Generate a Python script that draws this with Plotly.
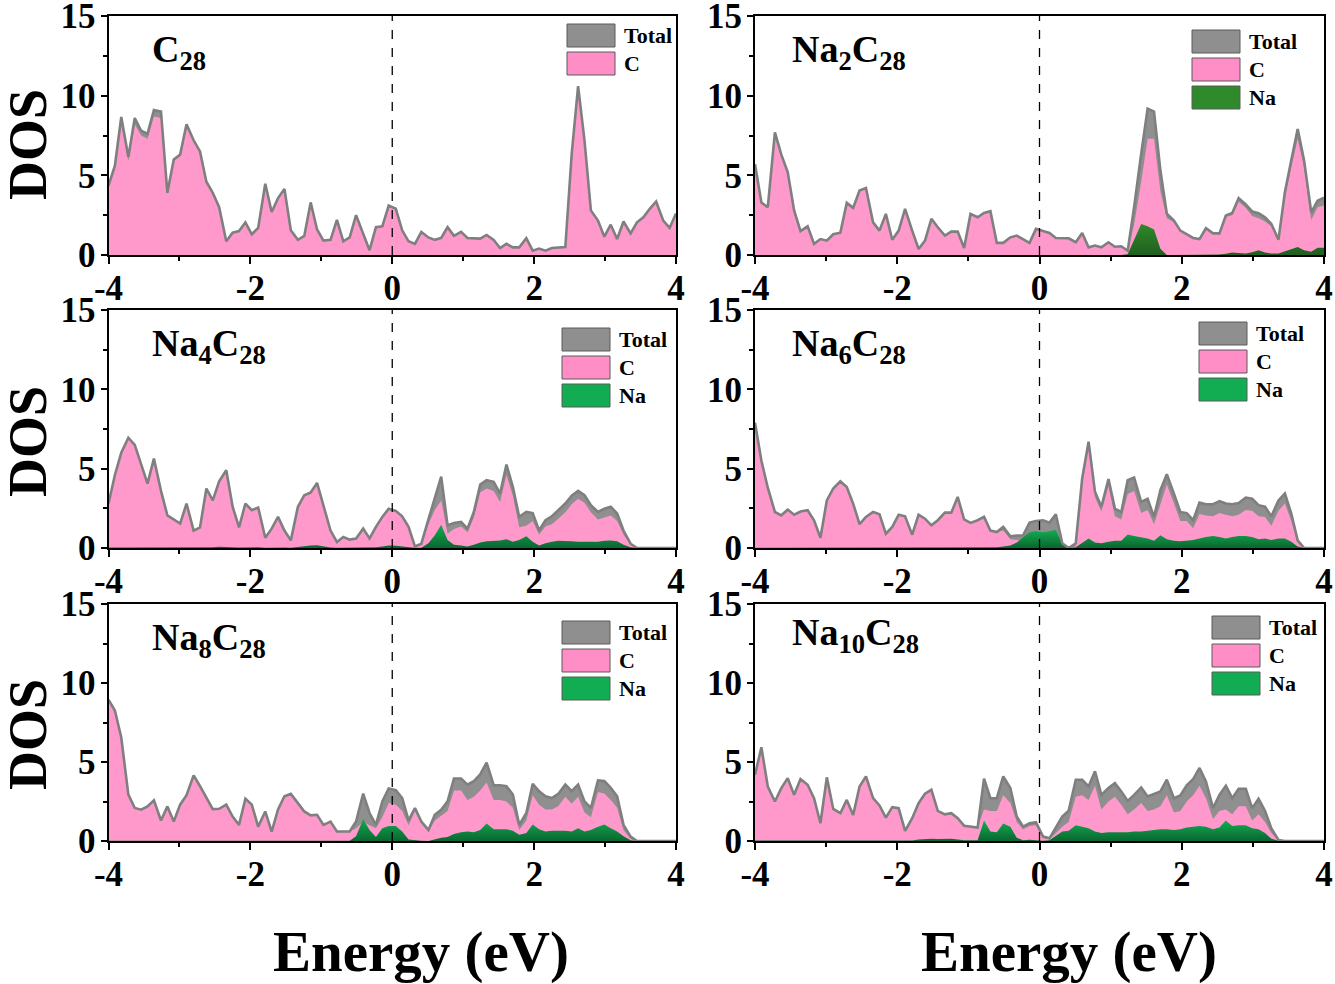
import plotly.graph_objects as go

W, H = 1335, 984

# energy grid (eV), shared by all six panels
ENERGY = [
    -4.00, -3.91, -3.82, -3.72, -3.63, -3.54, -3.45, -3.36, -3.26, -3.17,
    -3.08, -2.99, -2.90, -2.80, -2.71, -2.62, -2.53, -2.44, -2.34, -2.25,
    -2.16, -2.07, -1.98, -1.89, -1.79, -1.70, -1.61, -1.52, -1.43, -1.33,
    -1.24, -1.15, -1.06, -0.97, -0.87, -0.78, -0.69, -0.60, -0.51, -0.41,
    -0.32, -0.23, -0.14, -0.05, 0.05, 0.14, 0.23, 0.32, 0.41, 0.51,
    0.60, 0.69, 0.78, 0.87, 0.97, 1.06, 1.15, 1.24, 1.33, 1.43,
    1.52, 1.61, 1.70, 1.79, 1.89, 1.98, 2.07, 2.16, 2.25, 2.34,
    2.44, 2.53, 2.62, 2.71, 2.80, 2.90, 2.99, 3.08, 3.17, 3.26,
    3.36, 3.45, 3.54, 3.63, 3.72, 3.82, 3.91, 4.00,
]

X_TICKS = [-4, -2, 0, 2, 4]
X_TICK_TEXT = ["-4", "-2", "0", "2", "4"]
Y_TICKS = [0, 5, 10, 15]
Y_TICK_TEXT = ["0", "5", "10", "15"]

# ---- C28 ----
C28_TOTAL = [
    4.36, 5.6, 8.66, 6.15, 8.6, 7.8, 7.6, 9.1, 9.0, 3.9,
    6.0, 6.3, 8.2, 7.2, 6.5, 4.6, 3.9, 3.0, 0.86, 1.4,
    1.5, 2.05, 1.3, 1.7, 4.47, 2.7, 3.57, 4.15, 1.55, 0.95,
    1.2, 3.3, 1.6, 0.9, 0.95, 2.2, 0.86, 1.1, 2.5, 1.3,
    0.3, 1.75, 1.8, 3.1, 2.9, 1.55, 0.86, 0.7, 1.45, 1.1,
    0.95, 1.07, 1.75, 1.2, 1.45, 1.07, 1.05, 1.03, 1.26, 0.95,
    0.44, 0.7, 0.48, 0.48, 1.05, 0.27, 0.4, 0.27, 0.44, 0.46,
    0.5, 6.36, 10.6, 7.2, 2.8, 2.16, 1.15, 1.9, 1.0, 2.1,
    1.36, 2.05, 2.37, 2.9, 3.36, 2.16, 1.7, 2.6,
]
C28_C = [
    4.3, 5.4, 8.3, 5.9, 8.2, 7.5, 7.3, 8.7, 8.6, 3.8,
    5.9, 6.2, 8.1, 7.1, 6.4, 4.55, 3.85, 2.95, 0.84, 1.38,
    1.5, 2.05, 1.3, 1.7, 4.47, 2.7, 3.57, 4.15, 1.55, 0.95,
    1.2, 3.3, 1.6, 0.9, 0.95, 2.2, 0.86, 1.1, 2.5, 1.3,
    0.3, 1.75, 1.8, 3.1, 2.9, 1.55, 0.86, 0.7, 1.45, 1.1,
    0.95, 1.07, 1.75, 1.2, 1.45, 1.07, 1.05, 1.03, 1.26, 0.95,
    0.44, 0.7, 0.48, 0.48, 1.05, 0.27, 0.4, 0.27, 0.44, 0.46,
    0.5, 6.3, 10.5, 7.1, 2.8, 2.16, 1.15, 1.9, 1.0, 2.1,
    1.36, 2.05, 2.37, 2.9, 3.36, 2.16, 1.7, 2.6,
]

# ---- Na2C28 ----
NA2_TOTAL = [
    5.7, 3.3, 3.0, 7.7, 6.3, 5.2, 2.8, 1.5, 1.8, 0.7,
    1.0, 0.9, 1.3, 1.4, 3.27, 2.96, 4.05, 4.2, 2.05, 1.53,
    2.58, 0.96, 1.53, 2.9, 1.53, 0.38, 0.9, 2.27, 1.74, 1.22,
    1.47, 1.47, 0.44, 2.58, 2.37, 2.64, 2.75, 0.76, 0.76, 1.11,
    1.22, 1.0, 0.76, 1.64, 1.49, 1.38, 1.07, 1.05, 1.05, 0.8,
    1.38, 0.48, 0.59, 0.48, 0.8, 0.52, 0.55, 0.27, 3.0, 6.36,
    9.19, 9.0, 5.3, 2.6, 2.16, 1.53, 1.32, 1.07, 1.0, 1.68,
    1.36, 1.36, 2.48, 2.64, 3.57, 3.17, 2.73, 2.62, 2.37, 1.95,
    0.96, 3.94, 5.94, 7.9, 5.94, 2.68, 3.4, 3.6,
]
NA2_C = [
    5.7, 3.3, 3.0, 7.7, 6.3, 5.2, 2.8, 1.5, 1.8, 0.7,
    1.0, 0.9, 1.3, 1.4, 3.27, 2.96, 4.05, 4.2, 2.05, 1.53,
    2.58, 0.96, 1.53, 2.9, 1.53, 0.38, 0.9, 2.27, 1.74, 1.22,
    1.47, 1.47, 0.44, 2.58, 2.37, 2.64, 2.75, 0.76, 0.76, 1.11,
    1.22, 1.0, 0.76, 1.64, 1.49, 1.38, 1.07, 1.05, 1.05, 0.8,
    1.38, 0.48, 0.59, 0.48, 0.8, 0.52, 0.55, 0.22, 1.9, 4.6,
    7.3, 7.3, 4.0, 2.3, 2.05, 1.5, 1.3, 1.05, 1.0, 1.65,
    1.33, 1.3, 2.4, 2.5, 3.35, 2.95, 2.45, 2.3, 2.1, 1.8,
    0.9, 3.6, 5.5, 7.3, 5.5, 2.2, 3.0, 3.1,
]
NA2_NA = [
    0.0, 0.0, 0.0, 0.0, 0.0, 0.0, 0.0, 0.0, 0.0, 0.0,
    0.0, 0.0, 0.0, 0.0, 0.0, 0.0, 0.0, 0.0, 0.0, 0.0,
    0.0, 0.0, 0.0, 0.0, 0.0, 0.0, 0.0, 0.0, 0.0, 0.0,
    0.0, 0.0, 0.0, 0.0, 0.0, 0.0, 0.0, 0.0, 0.0, 0.0,
    0.0, 0.0, 0.0, 0.0, 0.0, 0.0, 0.0, 0.0, 0.0, 0.0,
    0.0, 0.0, 0.0, 0.0, 0.0, 0.0, 0.0, 0.05, 1.0, 1.95,
    1.8, 1.6, 0.4, 0.0, 0.0, 0.0, 0.0, 0.0, 0.0, 0.0,
    0.0, 0.03, 0.08, 0.15, 0.12, 0.1, 0.18, 0.3, 0.15, 0.1,
    0.1, 0.25, 0.35, 0.5, 0.3, 0.2, 0.45, 0.45,
]

# ---- Na4C28 ----
NA4_TOTAL = [
    2.8, 4.6, 6.0, 6.95, 6.5, 5.3, 4.06, 5.64, 3.6, 2.06,
    1.8, 1.54, 2.8, 1.1, 1.3, 3.75, 3.0, 4.2, 4.9, 2.6,
    1.3, 2.8, 2.38, 2.55, 0.65, 1.22, 1.96, 1.1, 0.48, 2.6,
    3.33, 3.5, 4.1, 2.6, 1.1, 0.38, 0.7, 0.53, 0.6, 1.22,
    0.6, 1.33, 1.96, 2.48, 2.34, 2.0, 1.33, 0.1, 0.27, 1.8,
    3.2, 4.5, 1.43, 1.58, 1.64, 1.22, 2.27, 4.0, 4.27, 4.17,
    3.43, 5.26, 3.85, 1.96, 2.27, 2.2, 1.1, 1.75, 2.0, 2.38,
    2.8, 3.3, 3.6, 3.33, 2.7, 2.27, 2.48, 2.6, 2.17, 1.1,
    0.27, 0.0, 0.0, 0.0, 0.0, 0.0, 0.0, 0.0,
]
NA4_C = [
    2.8, 4.6, 6.0, 6.95, 6.5, 5.3, 4.06, 5.64, 3.6, 2.06,
    1.8, 1.54, 2.8, 1.1, 1.3, 3.75, 3.0, 4.2, 4.9, 2.6,
    1.3, 2.8, 2.38, 2.55, 0.65, 1.22, 1.96, 1.1, 0.48, 2.55,
    3.25, 3.4, 4.0, 2.55, 1.1, 0.38, 0.7, 0.53, 0.6, 1.2,
    0.6, 1.3, 1.9, 2.4, 2.25, 1.95, 1.3, 0.1, 0.25, 1.5,
    2.4, 3.0, 0.9, 1.2, 1.35, 1.0, 1.9, 3.5, 3.75, 3.6,
    2.9, 4.6, 3.3, 1.3, 1.4, 1.7, 0.85, 1.35, 1.5, 1.85,
    2.25, 2.75, 3.1, 2.85, 2.25, 1.8, 1.95, 2.05, 1.7, 0.85,
    0.2, 0.0, 0.0, 0.0, 0.0, 0.0, 0.0, 0.0,
]
NA4_NA = [
    0.03, 0.03, 0.03, 0.03, 0.03, 0.03, 0.03, 0.03, 0.03, 0.03,
    0.05, 0.05, 0.05, 0.03, 0.03, 0.05, 0.05, 0.08, 0.08, 0.05,
    0.03, 0.05, 0.05, 0.05, 0.02, 0.03, 0.05, 0.03, 0.02, 0.08,
    0.12, 0.15, 0.18, 0.1, 0.03, 0.01, 0.02, 0.02, 0.02, 0.04,
    0.03, 0.05, 0.1, 0.15, 0.14, 0.1, 0.05, 0.01, 0.02, 0.3,
    0.8, 1.47, 0.5, 0.2, 0.15, 0.1, 0.2, 0.35, 0.42, 0.45,
    0.47, 0.55, 0.4, 0.5, 0.74, 0.4, 0.15, 0.3, 0.4, 0.45,
    0.45, 0.43, 0.4, 0.4, 0.38, 0.4, 0.45, 0.48, 0.42, 0.2,
    0.05, 0.0, 0.0, 0.0, 0.0, 0.0, 0.0, 0.0,
]

# ---- Na6C28 ----
NA6_TOTAL = [
    7.9, 5.5, 3.8, 2.27, 2.06, 2.42, 2.1, 2.3, 2.38, 1.75,
    0.65, 3.0, 3.75, 4.2, 3.85, 2.8, 1.5, 1.96, 2.27, 2.13,
    0.9, 1.33, 2.1, 2.0, 0.84, 2.1, 1.85, 1.43, 1.75, 2.23,
    2.23, 3.22, 1.8, 1.58, 1.75, 1.96, 1.1, 1.0, 1.33, 0.74,
    0.78, 0.8, 1.6, 1.7, 1.75, 1.6, 2.13, 0.3, 0.0, 0.3,
    4.38, 6.7, 3.54, 2.6, 4.34, 2.48, 2.27, 4.27, 4.44, 2.9,
    3.1, 1.96, 3.64, 4.65, 3.43, 2.27, 2.2, 1.75, 2.86, 2.76,
    2.76, 2.95, 2.8, 2.76, 2.84, 3.18, 3.1, 2.7, 2.6, 2.0,
    3.0, 3.43, 2.17, 0.48, 0.0, 0.0, 0.0, 0.0,
]
NA6_C = [
    7.9, 5.5, 3.8, 2.27, 2.06, 2.42, 2.1, 2.3, 2.38, 1.75,
    0.65, 3.0, 3.75, 4.2, 3.85, 2.8, 1.5, 1.96, 2.27, 2.13,
    0.9, 1.33, 2.1, 2.0, 0.84, 2.1, 1.85, 1.43, 1.75, 2.23,
    2.23, 3.22, 1.8, 1.58, 1.75, 1.96, 1.1, 1.0, 1.1, 0.55,
    0.5, 0.45, 0.5, 0.5, 0.5, 0.45, 0.7, 0.1, 0.0, 0.1,
    4.1, 6.4, 3.2, 2.3, 3.9, 2.0, 1.8, 3.4, 3.6, 2.2,
    2.4, 1.5, 2.8, 4.0, 2.8, 1.7, 1.7, 1.25, 2.15, 2.05,
    2.0, 2.2, 2.1, 2.0, 2.1, 2.4, 2.35, 2.0, 1.95, 1.4,
    2.35, 2.8, 1.7, 0.35, 0.0, 0.0, 0.0, 0.0,
]
NA6_NA = [
    0.02, 0.02, 0.02, 0.02, 0.02, 0.02, 0.02, 0.02, 0.02, 0.02,
    0.02, 0.02, 0.02, 0.02, 0.02, 0.02, 0.02, 0.02, 0.02, 0.02,
    0.02, 0.02, 0.02, 0.02, 0.02, 0.02, 0.02, 0.02, 0.02, 0.02,
    0.02, 0.02, 0.02, 0.02, 0.02, 0.02, 0.02, 0.05, 0.1, 0.15,
    0.35, 0.7, 1.0, 1.05, 1.0, 1.05, 1.15, 0.2, 0.0, 0.05,
    0.35, 0.6, 0.35, 0.3, 0.4, 0.45, 0.45, 0.85, 0.75, 0.65,
    0.6, 0.45, 0.8, 0.55, 0.45, 0.42, 0.45, 0.5, 0.6, 0.7,
    0.75, 0.7, 0.6, 0.7, 0.75, 0.75, 0.7, 0.55, 0.6, 0.5,
    0.6, 0.6, 0.4, 0.1, 0.0, 0.0, 0.0, 0.0,
]

# ---- Na8C28 ----
NA8_TOTAL = [
    8.94, 8.26, 6.55, 2.94, 2.09, 1.98, 2.19, 2.57, 1.3, 2.19,
    1.23, 2.3, 2.9, 4.15, 3.47, 2.72, 2.02, 2.04, 2.3, 1.55,
    1.02, 2.68, 2.3, 0.91, 1.87, 0.6, 2.0, 2.83, 2.98, 2.4,
    1.87, 1.62, 1.66, 1.02, 1.23, 0.6, 0.6, 0.6, 1.23, 3.0,
    1.77, 1.02, 2.51, 3.32, 3.21, 2.72, 1.3, 2.09, 1.23, 0.7,
    1.66, 1.98, 2.51, 3.96, 3.96, 3.57, 3.79, 4.21, 4.96, 3.53,
    3.53, 3.47, 2.94, 1.02, 1.77, 3.62, 3.15, 2.83, 2.72, 2.98,
    3.57, 3.15, 3.57, 2.51, 2.09, 3.83, 3.79, 3.36, 2.83, 1.02,
    0.28, 0.0, 0.0, 0.0, 0.0, 0.0, 0.0, 0.0,
]
NA8_C = [
    8.94, 8.26, 6.55, 2.94, 2.09, 1.98, 2.19, 2.57, 1.3, 2.19,
    1.23, 2.3, 2.9, 4.15, 3.47, 2.72, 2.02, 2.04, 2.3, 1.55,
    1.02, 2.68, 2.3, 0.91, 1.87, 0.6, 2.0, 2.83, 2.98, 2.4,
    1.87, 1.62, 1.66, 1.02, 1.23, 0.6, 0.6, 0.6, 0.8, 1.2,
    1.0, 0.8, 1.5, 2.4, 2.3, 1.9, 1.0, 1.9, 1.1, 0.6,
    1.3, 1.6, 1.9, 3.2, 3.2, 2.6, 2.8, 3.2, 3.7, 2.6,
    2.6, 2.5, 2.1, 0.7, 1.3, 2.9, 2.3, 2.0, 2.0, 2.2,
    2.8, 2.35, 2.8, 1.8, 1.5, 3.1, 3.0, 2.6, 2.1, 0.7,
    0.15, 0.0, 0.0, 0.0, 0.0, 0.0, 0.0, 0.0,
]
NA8_NA = [
    0.02, 0.02, 0.02, 0.02, 0.02, 0.02, 0.02, 0.02, 0.02, 0.02,
    0.02, 0.02, 0.02, 0.02, 0.02, 0.02, 0.02, 0.02, 0.02, 0.02,
    0.02, 0.02, 0.02, 0.02, 0.02, 0.02, 0.02, 0.02, 0.02, 0.02,
    0.02, 0.02, 0.02, 0.02, 0.02, 0.02, 0.02, 0.02, 0.3, 1.4,
    0.7, 0.25, 0.8, 0.95, 0.95, 0.6, 0.1, 0.05, 0.02, 0.0,
    0.1, 0.2, 0.25, 0.45, 0.55, 0.6, 0.55, 0.7, 1.1, 0.75,
    0.75, 0.75, 0.65, 0.4, 0.5, 1.05, 0.75, 0.6, 0.65, 0.65,
    0.65, 0.6, 0.8, 0.6, 0.7, 0.9, 1.05, 0.8, 0.6, 0.3,
    0.05, 0.0, 0.0, 0.0, 0.0, 0.0, 0.0, 0.0,
]

# ---- Na10C28 ----
NA10_TOTAL = [
    4.2, 5.93, 3.45, 2.5, 3.35, 3.98, 2.92, 3.92, 3.56, 2.71,
    1.12, 4.03, 2.03, 1.76, 2.6, 1.65, 3.45, 4.09, 2.71, 2.25,
    1.48, 2.14, 2.08, 0.64, 1.44, 2.39, 2.99, 3.24, 1.91, 1.69,
    1.76, 1.44, 0.97, 0.91, 0.85, 3.94, 2.71, 2.71, 4.09, 3.35,
    1.55, 0.91, 1.12, 1.19, 0.28, 0.17, 0.9, 1.55, 1.91, 3.88,
    3.88, 3.45, 4.41, 2.92, 3.35, 3.66, 3.14, 2.54, 2.92, 3.39,
    2.82, 2.97, 3.14, 3.88, 2.71, 2.88, 3.52, 3.92, 4.62, 3.77,
    2.08, 2.92, 3.5, 2.71, 3.3, 3.3, 2.08, 2.67, 1.91, 0.8,
    0.06, 0.0, 0.0, 0.0, 0.0, 0.0, 0.0, 0.0,
]
NA10_C = [
    4.2, 5.93, 3.45, 2.5, 3.35, 3.98, 2.92, 3.92, 3.56, 2.71,
    1.12, 4.03, 2.03, 1.76, 2.6, 1.65, 3.45, 4.09, 2.71, 2.25,
    1.48, 2.14, 2.08, 0.64, 1.44, 2.39, 2.99, 3.24, 1.91, 1.69,
    1.76, 1.44, 0.97, 0.91, 0.85, 2.0, 1.9, 1.9, 2.9, 2.4,
    1.2, 0.75, 0.95, 1.0, 0.2, 0.1, 0.5, 0.9, 1.2, 2.8,
    2.9, 2.6, 3.5, 2.0, 2.5, 2.8, 2.3, 1.7, 2.0, 2.4,
    1.9, 2.0, 2.2, 2.9, 1.8, 1.9, 2.5, 2.9, 3.5, 2.7,
    1.4, 1.9, 2.0, 1.7, 2.2, 2.2, 1.3, 1.7, 1.2, 0.5,
    0.03, 0.0, 0.0, 0.0, 0.0, 0.0, 0.0, 0.0,
]
NA10_NA = [
    0.03, 0.03, 0.03, 0.03, 0.03, 0.03, 0.03, 0.03, 0.03, 0.03,
    0.03, 0.03, 0.03, 0.03, 0.03, 0.03, 0.03, 0.03, 0.03, 0.03,
    0.03, 0.03, 0.03, 0.03, 0.03, 0.1, 0.12, 0.15, 0.12, 0.15,
    0.15, 0.1, 0.05, 0.05, 0.05, 1.3, 0.6, 0.55, 1.1, 0.9,
    0.2, 0.05, 0.08, 0.05, 0.02, 0.05, 0.3, 0.6, 0.65, 1.0,
    0.9, 0.8, 0.6, 0.5, 0.55, 0.55, 0.55, 0.55, 0.6, 0.6,
    0.65, 0.7, 0.75, 0.75, 0.7, 0.75, 0.85, 0.9, 0.95, 0.9,
    0.75, 0.85, 1.3, 0.95, 1.0, 1.0, 0.8, 0.75, 0.5, 0.15,
    0.02, 0.0, 0.0, 0.0, 0.0, 0.0, 0.0, 0.0,
]

LABELS = [
    "C<sub>28</sub>",
    "Na<sub>2</sub>C<sub>28</sub>",
    "Na<sub>4</sub>C<sub>28</sub>",
    "Na<sub>6</sub>C<sub>28</sub>",
    "Na<sub>8</sub>C<sub>28</sub>",
    "Na<sub>10</sub>C<sub>28</sub>",
]

PANELS = [
    (C28_TOTAL, C28_C, None),
    (NA2_TOTAL, NA2_C, NA2_NA),
    (NA4_TOTAL, NA4_C, NA4_NA),
    (NA6_TOTAL, NA6_C, NA6_NA),
    (NA8_TOTAL, NA8_C, NA8_NA),
    (NA10_TOTAL, NA10_C, NA10_NA),
]
for tot, c, na in PANELS:
    assert len(tot) == len(ENERGY) and len(c) == len(ENERGY)
    assert na is None or len(na) == len(ENERGY)

# layout, in pixels of the 1335x984 page
BOXES = [  # left, right, top, bottom of each plot frame
    (108.5, 676, 16, 255), (755, 1324, 16, 255),
    (108.5, 676, 310, 548), (755, 1324, 310, 548),
    (108.5, 676, 604, 841), (755, 1324, 604, 841),
]
LABEL_POS = [(150, 52), (790, 52), (150, 346), (790, 346), (150, 640), (790, 635)]
LEGEND_POS = [(567, 24), (1192, 30), (562, 328), (1199, 322), (562, 621), (1212, 616)]

FONT = "Liberation Serif"
PINK = "#ff99cc"
GRAY_FILL = "#8f8f8f"
GRAY_LINE = "#7f7f7f"
GREEN_DARK = "#0a6630"
GREEN_LIGHT = "#12ad52"
NA2_GREEN = "#2e8a2a"


def px(x):
    return x / W


def py(y):
    return 1 - y / H


fig = go.Figure()
layout = dict(
    template="none",
    width=W, height=H,
    margin=dict(l=0, r=0, t=0, b=0, pad=0),
    paper_bgcolor="white", plot_bgcolor="white",
    showlegend=False,
    font=dict(family=FONT, color="black"),
)
shapes = []
annotations = []

for k, (total, c, na) in enumerate(PANELS):
    sfx = "" if k == 0 else str(k + 1)
    xa, ya = "x" + sfx, "y" + sfx
    green = NA2_GREEN if k == 1 else GREEN_LIGHT

    fig.add_trace(go.Scatter(
        x=ENERGY, y=total, xaxis=xa, yaxis=ya, mode="lines",
        fill="tozeroy", fillcolor=GRAY_FILL, line=dict(width=0),
        hoverinfo="skip",
    ))
    fig.add_trace(go.Scatter(
        x=ENERGY, y=c, xaxis=xa, yaxis=ya, mode="lines",
        fill="tozeroy", fillcolor=PINK, line=dict(width=0),
        hoverinfo="skip",
    ))
    if na is not None:
        fig.add_trace(go.Scatter(
            x=ENERGY, y=na, xaxis=xa, yaxis=ya, mode="lines",
            fill="tozeroy", fillcolor=green, line=dict(width=0),
            fillgradient=dict(type="vertical",
                              colorscale=[[0, "#1f5f1f" if k == 1 else GREEN_DARK], [1, green]]),
            hoverinfo="skip",
        ))
    # total outline on top
    fig.add_trace(go.Scatter(
        x=ENERGY, y=total, xaxis=xa, yaxis=ya, mode="lines",
        line=dict(color=GRAY_LINE, width=2.6), hoverinfo="skip",
    ))

    left, right, top, bottom = BOXES[k]
    layout["xaxis" + sfx] = dict(
        domain=[px(left), px(right)], anchor=ya, range=[-4, 4],
        tickvals=X_TICKS, ticktext=X_TICK_TEXT, automargin=False,
        ticks="outside", ticklen=7, tickwidth=2, tickcolor="black",
        ticklabelstandoff=-6, ticklabeloverflow="allow",
        minor=dict(dtick=1, tick0=-4, ticks="outside", ticklen=4, tickwidth=1.5, tickcolor="black"),
        showline=True, linewidth=2, linecolor="black", mirror=True,
        showgrid=False, zeroline=False,
        tickfont=dict(family=FONT, size=35, weight="bold", color="black"),
    )
    layout["yaxis" + sfx] = dict(
        domain=[py(bottom), py(top)], anchor=xa, range=[0, 15],
        tickvals=Y_TICKS, ticktext=Y_TICK_TEXT, automargin=False,
        ticks="outside", ticklen=6, tickwidth=2, tickcolor="black",
        ticklabelstandoff=-2, ticklabeloverflow="allow",
        minor=dict(dtick=2.5, tick0=0, ticks="outside", ticklen=4, tickwidth=1.5, tickcolor="black"),
        showline=True, linewidth=2, linecolor="black", mirror=True,
        showgrid=False, zeroline=False,
        tickfont=dict(family=FONT, size=35, weight="bold", color="black"),
    )

    # Fermi level
    shapes.append(dict(
        type="line", xref=xa, yref=ya + " domain", x0=0, x1=0, y0=0, y1=1,
        line=dict(color="black", width=1.3, dash="dash"), layer="above",
    ))

    # panel label
    lx, ly = LABEL_POS[k]
    annotations.append(dict(
        text=LABELS[k], x=px(lx), y=py(ly), xref="paper", yref="paper",
        xanchor="left", yanchor="middle", showarrow=False,
        font=dict(family=FONT, size=38, weight="bold", color="black"),
    ))

    # legend swatches
    bx, by = LEGEND_POS[k]
    entries = [("Total", GRAY_FILL), ("C", "#ff8ec6")]
    if na is not None:
        entries.append(("Na", green))
    for j, (name, col) in enumerate(entries):
        y0 = by + j * 28
        shapes.append(dict(
            type="rect", xref="paper", yref="paper",
            x0=px(bx), x1=px(bx + 48), y0=py(y0 + 23), y1=py(y0),
            fillcolor=col, line=dict(color="#5a5a5a", width=1), layer="above",
        ))
        annotations.append(dict(
            text=name, x=px(bx + 55), y=py(y0 + 11.5), xref="paper", yref="paper",
            xanchor="left", yanchor="middle", showarrow=False,
            font=dict(family=FONT, size=22, weight="bold", color="black"),
        ))

# axis titles
for cy in (145, 442, 735):
    annotations.append(dict(
        text="DOS", x=px(28), y=py(cy), xref="paper", yref="paper",
        xanchor="center", yanchor="middle", textangle=-90, showarrow=False,
        font=dict(family=FONT, size=54, weight="bold", color="black"),
    ))
for cx in (421, 1069):
    annotations.append(dict(
        text="Energy (eV)", x=px(cx), y=py(952), xref="paper", yref="paper",
        xanchor="center", yanchor="middle", showarrow=False,
        font=dict(family=FONT, size=57, weight="bold", color="black"),
    ))

layout["shapes"] = shapes
layout["annotations"] = annotations
fig.update_layout(**layout)

fig.write_html("out.html", config={"displayModeBar": False},
               post_script="document.body.style.margin='0';")
